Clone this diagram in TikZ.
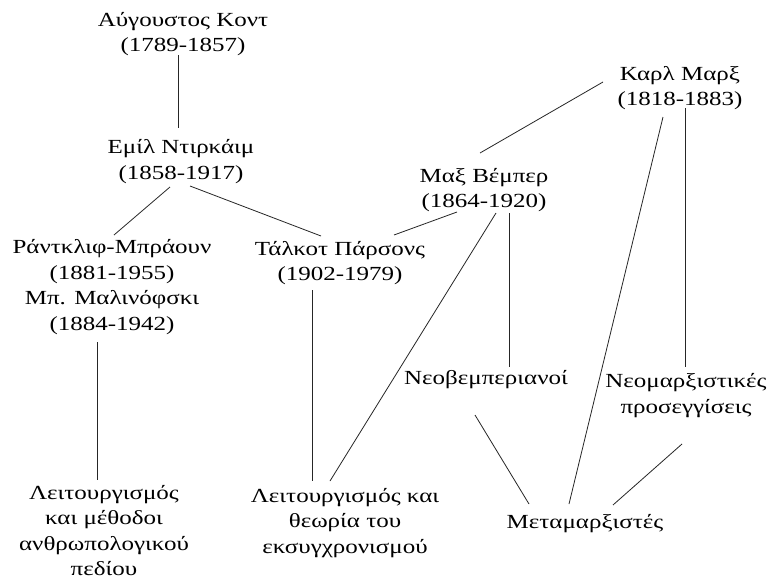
\documentclass[tikz,border=0pt]{standalone}
\usepackage{fontspec}
\setmainfont{Liberation Serif}[FakeStretch=1.25]
\usetikzlibrary{calc}
\begin{document}
\begin{tikzpicture}[x=1pt,y=-1pt,
  lbl/.style={align=center,inner sep=0pt,text=black,font=\fontsize{20}{25.5}\selectfont},
  link/.style={draw=black!85,line width=0.8pt}]
\fill[white] (0,0) rectangle (769,581);
\useasboundingbox (0,0) rectangle (769,581);
% nodes
\node[lbl] (kont)  at (183,34)    {\strut Αύγουστος Κοντ\\\strut (1789-1857)};
\node[lbl] (durk)  at (181,161.5) {\strut Εμίλ Ντιρκάιμ\\\strut (1858-1917)};
\node[lbl] (radc)  at (112,287)   {\strut Ράντκλιφ-Μπράουν\\\strut (1881-1955)\\\strut Μπ. Μαλινόφσκι\\\strut (1884-1942)};
\node[lbl] (pars)  at (340,263)   {\strut Τάλκοτ Πάρσονς\\\strut (1902-1979)};
\node[lbl] (weber) at (484,190)   {\strut Μαξ Βέμπερ\\\strut (1864-1920)};
\node[lbl] (marx)  at (680,88)    {\strut Καρλ Μαρξ\\\strut (1818-1883)};
\node[lbl] (neow)  at (486,379.5) {\strut Νεοβεμπεριανοί};
\node[lbl] (neom)  at (686,395.5) {\strut Νεομαρξιστικές\\\strut προσεγγίσεις};
\node[lbl] (meta)  at (585,523)   {\strut Μεταμαρξιστές};
\node[lbl] (funcL) at (104,532.5) {\strut Λειτουργισμός\\\strut και μέθοδοι\\\strut ανθρωπολογικού\\\strut πεδίου};
\node[lbl] (funcM) at (345,522.5) {\strut Λειτουργισμός και\\\strut θεωρία του\\\strut εκσυγχρονισμού};
% connectors
\draw[link] ($(kont)+(-5,21)$)   -- ($(durk)+(-3,-33.5)$);
\draw[link] ($(durk)+(-11,25.5)$) -- ($(radc)+(2,-52)$);
\draw[link] ($(durk)+(9,24.5)$)  -- ($(pars)+(-19,-27)$);
\draw[link] ($(weber)+(-27,22)$) -- ($(pars)+(54,-28)$);
\draw[link] ($(marx)+(-77,-6)$)  -- ($(weber)+(-4,-37)$);
\draw[link] ($(weber)+(12,23)$)  -- ($(funcM)+(-15,-41.5)$);
\draw[link] ($(weber)+(25,23)$)  -- ($(neow)+(23,-12.5)$);
\draw[link] ($(marx)+(-17,29)$)  -- ($(meta)+(-16,-19)$);
\draw[link] ($(marx)+(5,20)$)    -- ($(neom)+(-1,-28.5)$);
\draw[link] ($(radc)+(-15,55)$)  -- ($(funcL)+(-7,-52.5)$);
\draw[link] ($(pars)+(-28,27)$)  -- ($(funcM)+(-33,-41.5)$);
\draw[link] ($(neow)+(-11,35.5)$) -- ($(meta)+(-56,-19)$);
\draw[link] ($(neom)+(-4,48.5)$) -- ($(meta)+(28,-18)$);
\end{tikzpicture}
\end{document}
